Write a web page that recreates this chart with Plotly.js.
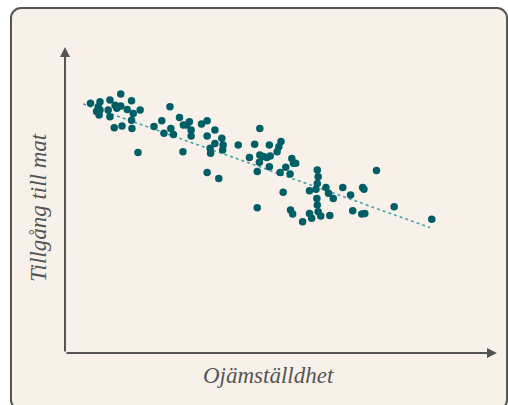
<!DOCTYPE html>
<html>
<head>
<meta charset="utf-8">
<script src="https://cdn.plot.ly/plotly-3.0.1.min.js"></script>
<style>
  html, body { margin: 0; padding: 0; background: #ffffff; width: 508px; height: 405px; overflow: hidden; }
  #frame { position: absolute; left: 10px; top: 7px; width: 498px; height: 404px;
           box-sizing: border-box; border: 2px solid #555555; border-radius: 11px; background: #f8f1ea; }
  #chart { position: absolute; left: 0; top: 0; width: 508px; height: 405px; }
</style>
</head>
<body>
<div id="frame"></div>
<div id="chart"></div>
<script>
// Ojämställdhet (x) and Tillgång till mat (y), arbitrary 0–100 units
const inequality = [
  5.9, 8.1, 7.7, 7.3, 7.9, 8.1, 10.4, 10.0, 10.4, 11.6, 12.0, 12.9, 12.9, 11.4, 13.2, 14.4, 15.4, 15.8, 15.4, 15.5, 17.4, 16.9,
  20.6, 22.4, 22.9, 24.3, 24.5, 25.1, 26.5, 27.4, 28.2, 28.8, 29.2, 29.2, 27.3, 31.6, 32.9, 32.9, 33.6, 33.7, 34.7, 34.7, 36.3, 36.6, 36.5, 32.9, 35.6, 40.1,
  42.7, 43.9, 44.5, 45.0, 45.1, 45.1, 45.9, 46.7, 47.3, 47.5, 47.3, 49.1, 49.5, 50.0, 49.8, 50.5, 51.1, 52.1, 52.5, 52.9, 53.4, 52.2, 52.7, 44.5,
  55.0, 56.6, 56.6, 57.1, 58.1, 58.4, 58.6, 58.4, 58.3, 58.4, 58.6, 59.2, 60.4, 61.0, 61.3, 62.1, 64.3, 66.1, 66.6, 68.9, 69.2, 68.7, 69.4, 72.1, 76.2, 84.9
];
const foodAccess = [
  81.6, 82.1, 80.5, 78.9, 77.8, 79.4, 82.7, 79.4, 77.2, 81.0, 80.0, 84.6, 80.7, 73.6, 74.2, 79.6, 82.4, 78.3, 76.1, 73.4, 79.4, 65.5,
  74.0, 75.9, 71.8, 80.5, 73.4, 71.4, 77.0, 74.5, 74.5, 75.6, 72.9, 70.9, 65.8, 74.8, 75.9, 70.9, 66.9, 65.3, 72.9, 68.5, 70.2, 68.0, 66.3, 59.0, 57.0, 68.0,
  63.9, 68.2, 59.3, 62.3, 73.4, 64.7, 64.2, 63.9, 68.0, 64.4, 60.9, 65.8, 67.4, 69.1, 59.0, 52.5, 60.7, 58.5, 63.6, 62.0, 62.0, 46.7, 45.4, 47.5,
  42.9, 53.0, 45.6, 44.0, 53.5, 59.8, 57.6, 55.4, 50.5, 48.4, 46.2, 44.8, 54.1, 52.2, 44.9, 50.5, 54.1, 51.6, 46.5, 54.1, 53.5, 45.4, 45.6, 59.6, 47.8, 43.7
];
// Trend line end points
const trendX = [4.2, 84.5];
const trendY = [81.4, 41.0];

const xTitle = 'Ojämställdhet';
const yTitle = 'Tillgång till mat';

const traces = [
  {
    x: trendX, y: trendY, type: 'scatter', mode: 'lines',
    line: { color: '#46a3a6', width: 1.6, dash: 'dot' },
    hoverinfo: 'skip', showlegend: false
  },
  {
    x: inequality, y: foodAccess, type: 'scatter', mode: 'markers',
    marker: { color: '#005f66', size: 7.5, line: { width: 0 } },
    showlegend: false
  }
];

const titleFont = { family: 'Liberation Serif, Times New Roman, serif', size: 23, color: '#555555', style: 'italic' };

const layout = {
  width: 508, height: 405,
  margin: { l: 65, r: 11, t: 47, b: 52, pad: 0 },
  paper_bgcolor: 'rgba(0,0,0,0)',
  plot_bgcolor: 'rgba(0,0,0,0)',
  showlegend: false,
  xaxis: { range: [0, 100], visible: false, fixedrange: true },
  yaxis: { range: [0, 100], visible: false, fixedrange: true },
  annotations: [
    { x: 100, y: 0, ax: 0, ay: 0, xref: 'x', yref: 'y', axref: 'x', ayref: 'y',
      text: '', showarrow: true, arrowhead: 2, arrowsize: 1, arrowwidth: 2, arrowcolor: '#555555' },
    { x: 0, y: 100, ax: 0, ay: 0, xref: 'x', yref: 'y', axref: 'x', ayref: 'y',
      text: '', showarrow: true, arrowhead: 2, arrowsize: 1, arrowwidth: 2, arrowcolor: '#555555' },
    { x: 0.472, y: -0.075, xref: 'paper', yref: 'paper', xanchor: 'center', yanchor: 'middle',
      text: xTitle, showarrow: false, font: titleFont },
    { x: -0.06, y: 0.474, xref: 'paper', yref: 'paper', xanchor: 'center', yanchor: 'middle',
      text: yTitle, textangle: -90, showarrow: false, font: titleFont }
  ]
};

Plotly.newPlot('chart', traces, layout, { displayModeBar: false, staticPlot: true });
</script>
</body>
</html>
